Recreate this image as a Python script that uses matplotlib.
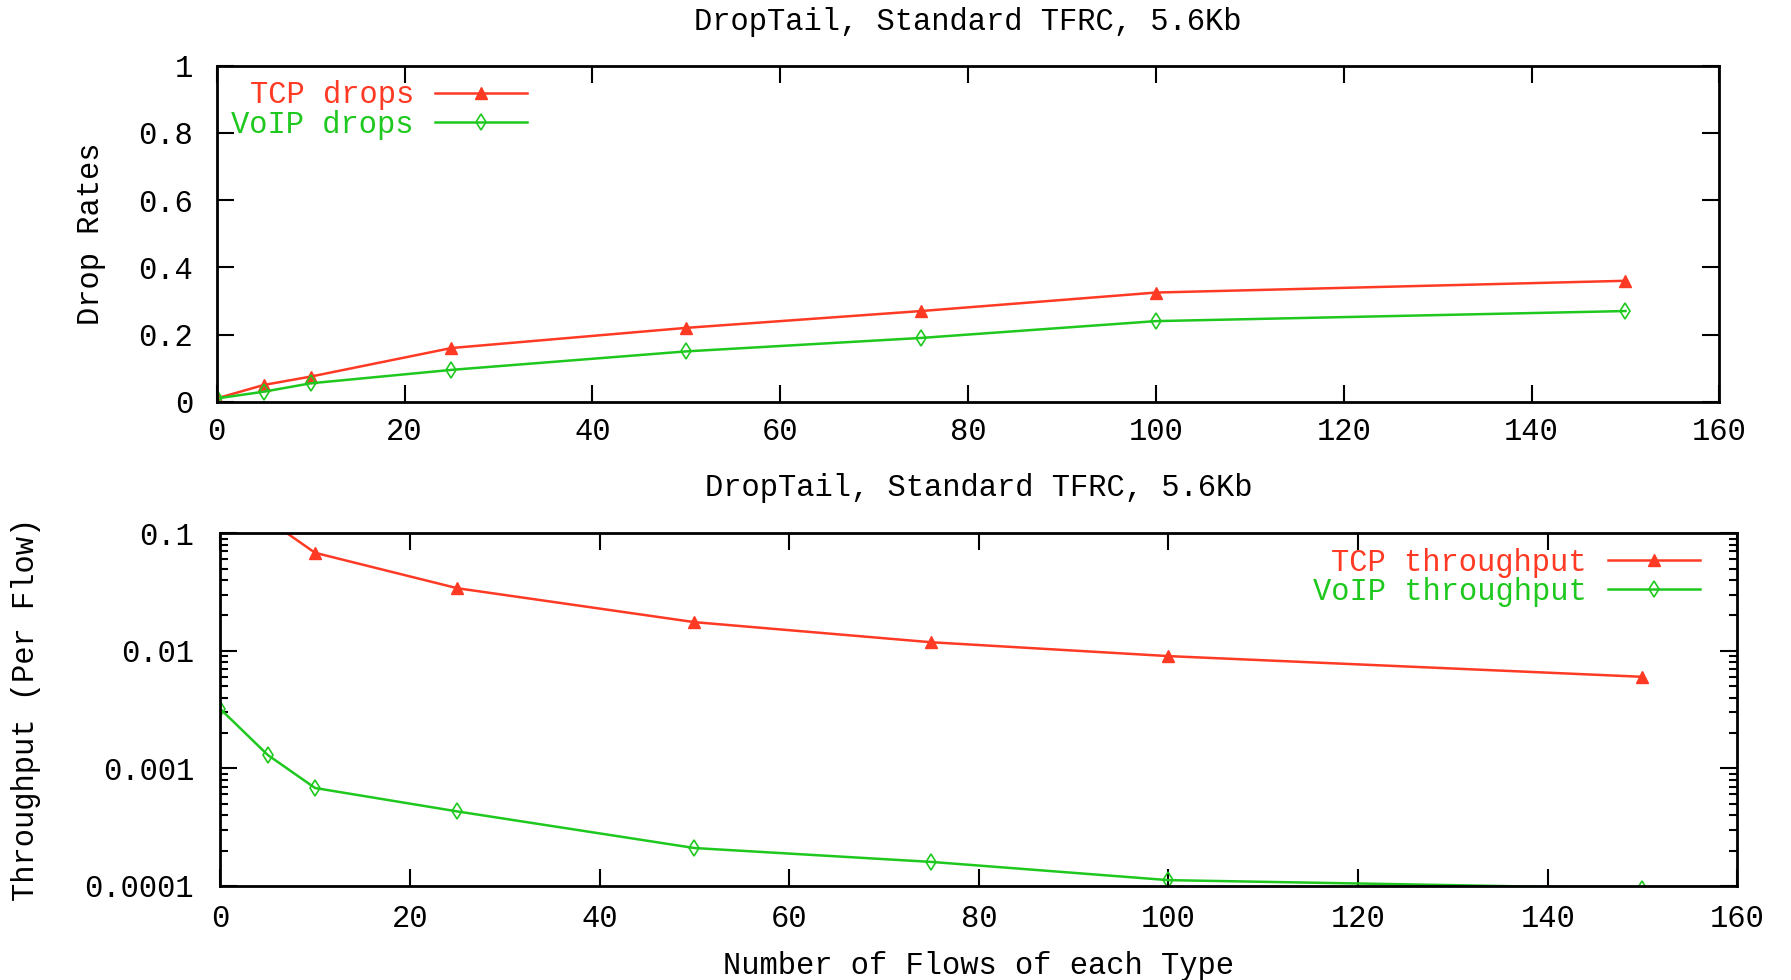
import matplotlib
matplotlib.use('Agg')
import matplotlib.pyplot as plt
from matplotlib.ticker import FixedLocator, LogLocator, NullFormatter

# data
flows = [0, 5, 10, 25, 50, 75, 100, 150]
tcp_drops = [0.01, 0.05, 0.075, 0.16, 0.22, 0.27, 0.325, 0.36]
voip_drops = [0.01, 0.03, 0.055, 0.095, 0.15, 0.19, 0.24, 0.27]
tcp_tput = [0.6, 0.13, 0.068, 0.034, 0.0175, 0.0118, 0.009, 0.006]
voip_tput = [0.0032, 0.0013, 0.00068, 0.00043, 0.00021, 0.00016, 0.000112, 0.000095]

title = 'DropTail, Standard TFRC, 5.6Kb'
red = '#ff3a24'
green = '#1ec81e'

plt.rcParams['font.family'] = ['Liberation Mono', 'DejaVu Sans Mono']
plt.rcParams['font.size'] = 22

fig = plt.figure(figsize=(17.91, 9.80), dpi=100)
ax1 = fig.add_axes([0.121, 0.590, 0.839, 0.343])
ax2 = fig.add_axes([0.123, 0.096, 0.847, 0.360])

# top: drop rates
ax1.plot(flows, tcp_drops, color=red, lw=1.8, marker='^', ms=8, mfc=red,
         mec=red, label='TCP drops')
ax1.plot(flows, voip_drops, color=green, lw=1.8, marker='d', ms=8, mfc='none',
         mec=green, mew=1.2, label='VoIP drops')
ax1.set_xlim(0, 160)
ax1.set_ylim(0, 1)
ax1.set_xticks(range(0, 161, 20))
ax1.set_yticks([0, 0.2, 0.4, 0.6, 0.8, 1])
ax1.set_yticklabels(['0', '0.2', '0.4', '0.6', '0.8', '1'])
ax1.set_ylabel('Drop Rates', labelpad=23)
ax1.set_title(title, fontsize=22, pad=26)
ax1.tick_params(axis='x', direction='in', length=12, width=1.5, top=True, pad=11)
ax1.tick_params(axis='y', direction='in', length=12, width=1.5, right=True, pad=17)
leg1 = ax1.legend(loc='upper left', markerfirst=False, frameon=False,
                  handlelength=3.0, borderaxespad=0.08, labelspacing=-0.02,
                  handletextpad=0.7, bbox_to_anchor=(0.0, 1.0))
for t, c in zip(leg1.get_texts(), [red, green]):
    t.set_color(c)

# bottom: throughput per flow
ax2.plot(flows, tcp_tput, color=red, lw=1.8, marker='^', ms=8, mfc=red,
         mec=red, label='TCP throughput')
ax2.plot(flows, voip_tput, color=green, lw=1.8, marker='d', ms=8, mfc='none',
         mec=green, mew=1.2, label='VoIP throughput')
ax2.set_yscale('log')
ax2.set_xlim(0, 160)
ax2.set_ylim(0.0001, 0.1)
ax2.set_xticks(range(0, 161, 20))
ax2.yaxis.set_major_locator(FixedLocator([0.0001, 0.001, 0.01, 0.1]))
ax2.set_yticklabels(['0.0001', '0.001', '0.01', '0.1'])
ax2.yaxis.set_minor_locator(LogLocator(base=10, subs=range(2, 10)))
ax2.yaxis.set_minor_formatter(NullFormatter())
ax2.set_xlabel('Number of Flows of each Type', labelpad=12)
ax2.set_ylabel('Throughput (Per Flow)', labelpad=31)
ax2.set_title(title, fontsize=22, pad=27)
ax2.tick_params(axis='x', direction='in', length=12, width=1.5, top=True, pad=13)
ax2.tick_params(axis='y', which='major', direction='in', length=12, width=1.5,
                right=True, pad=19)
ax2.tick_params(axis='y', which='minor', direction='in', length=6, width=1.5,
                right=True)
leg2 = ax2.legend(loc='upper right', markerfirst=False, frameon=False,
                  handlelength=3.0, borderaxespad=0.08, labelspacing=-0.02,
                  handletextpad=0.7, bbox_to_anchor=(0.985, 1.0))
for t, c in zip(leg2.get_texts(), [red, green]):
    t.set_color(c)

for ax in (ax1, ax2):
    for s in ax.spines.values():
        s.set_linewidth(2)

fig.savefig('out.png', dpi=100)
